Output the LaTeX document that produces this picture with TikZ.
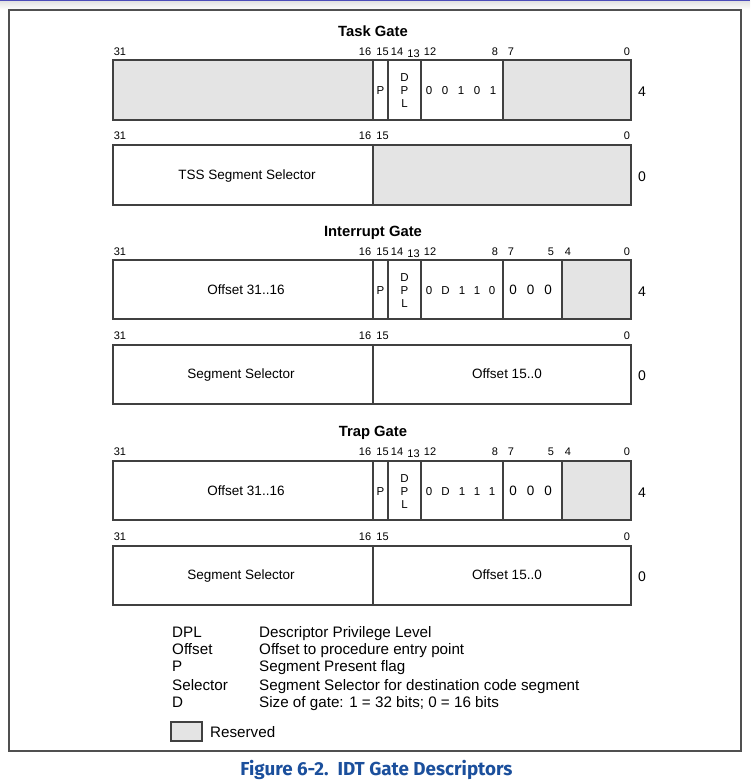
\documentclass[tikz,border=0pt]{standalone}
\usepackage{fontspec}
\setmainfont{Liberation Sans}
\newfontfamily\capfont{Fira Sans}
\definecolor{linec}{HTML}{404040}
\definecolor{resgray}{HTML}{E4E4E4}
\definecolor{capblue}{HTML}{1B4F9C}
\definecolor{framec}{HTML}{505050}
\newcommand\bitfont{\fontsize{11}{12}\selectfont}
\newcommand\fldfont{\fontsize{13.5}{15}\selectfont}
\newcommand\smlfont{\fontsize{11.5}{12}\selectfont}
\newcommand\ttlfont{\fontsize{14.8}{16}\selectfont\bfseries}
\newcommand\sidefont{\fontsize{14}{16}\selectfont}
\newcommand\legfont{\fontsize{15.2}{17}\selectfont}
\tikzset{
  box/.style={draw=linec, line width=1.4pt},
  res/.style={fill=resgray},
  bitn/.style={font=\bitfont, inner sep=0pt, text height=7.9pt, text depth=0pt},
  fld/.style={font=\fldfont, inner sep=0pt, text height=9.7pt, text depth=0pt},
  sml/.style={font=\smlfont, inner sep=0pt, text height=8.2pt, text depth=0pt},
  ttl/.style={font=\ttlfont, inner sep=0pt, text height=10.6pt, text depth=0pt},
  side/.style={font=\sidefont, inner sep=0pt, text height=10pt, text depth=0pt},
  leg/.style={font=\legfont, inner sep=0pt, text height=10.9pt, text depth=0pt, anchor=west},
}
\begin{document}
\begin{tikzpicture}[x=1pt,y=-1pt]
\useasboundingbox (0,0) rectangle (750,782);
% top band and outer frame
\shade[top color=gray!25, bottom color=white] (0,0) rectangle (750,10);
\fill[blue!60!black!70] (0,0) rectangle (750,1.2);
\draw[framec, line width=2pt] (9,10) rectangle (741,751);

% ---------------- Task Gate ----------------
\node[ttl] (tgT) at (373,31) {Task Gate};
\node[bitn] (tA31) at (120,52) {31};
\node[bitn] (tA16) at (365,52) {16};
\node[bitn] (tA15) at (382.5,52) {15};
\node[bitn] (tA14) at (397,52) {14};
\node[bitn] (tA13) at (413.5,53.5) {13};
\node[bitn] (tA12) at (430,52) {12};
\node[bitn] (tA8) at (495,52) {8};
\node[bitn] (tA7) at (511,52) {7};
\node[bitn] (tA0) at (627,52) {0};
\fill[res] (113,60) rectangle (373,120);
\fill[res] (503,60) rectangle (631,120);
\draw[box] (113,60) rectangle (631,120);
\draw[box] (373,60)--(373,120) (388,60)--(388,120) (421,60)--(421,120) (503,60)--(503,120);
\node[sml] (tAP) at (380.5,90) {P};
\node[sml] (tAD) at (404.5,77) {D};
\node[sml] (tAPP) at (404.5,90) {P};
\node[sml] (tAL) at (404.5,103) {L};
\node[sml] (tAb1) at (429,90) {0};
\node[sml] (tAb2) at (445,90) {0};
\node[sml] (tAb3) at (461,90) {1};
\node[sml] (tAb4) at (477,90) {0};
\node[sml] (tAb5) at (493,90) {1};
\node[side] (tAs) at (642,91) {4};

\node[bitn] (tB31) at (120,136) {31};
\node[bitn] (tB16) at (365,136) {16};
\node[bitn] (tB15) at (382.5,136) {15};
\node[bitn] (tB0) at (627,136) {0};
\fill[res] (373,145) rectangle (631,205);
\draw[box] (113,145) rectangle (631,205);
\draw[box] (373,145)--(373,205);
\node[fld] (tBsel) at (247,175) {TSS Segment Selector};
\node[side] (tBs) at (642,176) {0};

% ---------------- Interrupt Gate ----------------
\node[ttl] (igT) at (373,231) {Interrupt Gate};
\node[bitn] (iA31) at (120,252) {31};
\node[bitn] (iA16) at (365,252) {16};
\node[bitn] (iA15) at (382.5,252) {15};
\node[bitn] (iA14) at (397,252) {14};
\node[bitn] (iA13) at (413.5,253.5) {13};
\node[bitn] (iA12) at (430,252) {12};
\node[bitn] (iA8) at (495,252) {8};
\node[bitn] (iA7) at (511,252) {7};
\node[bitn] (iA5) at (551,252) {5};
\node[bitn] (iA4) at (568,252) {4};
\node[bitn] (iA0) at (627,252) {0};
\fill[res] (562,260) rectangle (631,319);
\draw[box] (113,260) rectangle (631,319);
\draw[box] (373,260)--(373,319) (388,260)--(388,319) (421,260)--(421,319) (503,260)--(503,319) (562,260)--(562,319);
\node[fld] (iAoff) at (246,290) {Offset 31..16};
\node[sml] (iAP) at (380.5,290) {P};
\node[sml] (iAD) at (404.5,277) {D};
\node[sml] (iAPP) at (404.5,290) {P};
\node[sml] (iAL) at (404.5,303) {L};
\node[sml] (iAb1) at (429,290) {0};
\node[sml] (iAb2) at (445.5,290) {D};
\node[sml] (iAb3) at (462,290) {1};
\node[sml] (iAb4) at (477,290) {1};
\node[sml] (iAb5) at (492,290) {0};
\node[fld] (iAc1) at (513,290) {0};
\node[fld] (iAc2) at (530.5,290) {0};
\node[fld] (iAc3) at (548,290) {0};
\node[side] (iAs) at (642,291) {4};

\node[bitn] (iB31) at (120,336) {31};
\node[bitn] (iB16) at (365,336) {16};
\node[bitn] (iB15) at (382.5,336) {15};
\node[bitn] (iB0) at (627,336) {0};
\draw[box] (113,345) rectangle (631,404);
\draw[box] (373,345)--(373,404);
\node[fld] (iBsel) at (241,374) {Segment Selector};
\node[fld] (iBoff) at (507,374) {Offset 15..0};
\node[side] (iBs) at (642,375) {0};

% ---------------- Trap Gate ----------------
\node[ttl] (rgT) at (373,431) {Trap Gate};
\node[bitn] (rA31) at (120,452) {31};
\node[bitn] (rA16) at (365,452) {16};
\node[bitn] (rA15) at (382.5,452) {15};
\node[bitn] (rA14) at (397,452) {14};
\node[bitn] (rA13) at (413.5,453.5) {13};
\node[bitn] (rA12) at (430,452) {12};
\node[bitn] (rA8) at (495,452) {8};
\node[bitn] (rA7) at (511,452) {7};
\node[bitn] (rA5) at (551,452) {5};
\node[bitn] (rA4) at (568,452) {4};
\node[bitn] (rA0) at (627,452) {0};
\fill[res] (562,461) rectangle (631,520);
\draw[box] (113,461) rectangle (631,520);
\draw[box] (373,461)--(373,520) (388,461)--(388,520) (421,461)--(421,520) (503,461)--(503,520) (562,461)--(562,520);
\node[fld] (rAoff) at (246,491) {Offset 31..16};
\node[sml] (rAP) at (380.5,491) {P};
\node[sml] (rAD) at (404.5,478) {D};
\node[sml] (rAPP) at (404.5,491) {P};
\node[sml] (rAL) at (404.5,504) {L};
\node[sml] (rAb1) at (429,491) {0};
\node[sml] (rAb2) at (445.5,491) {D};
\node[sml] (rAb3) at (462,491) {1};
\node[sml] (rAb4) at (477,491) {1};
\node[sml] (rAb5) at (492,491) {1};
\node[fld] (rAc1) at (513,491) {0};
\node[fld] (rAc2) at (530.5,491) {0};
\node[fld] (rAc3) at (548,491) {0};
\node[side] (rAs) at (642,492) {4};

\node[bitn] (rB31) at (120,537) {31};
\node[bitn] (rB16) at (365,537) {16};
\node[bitn] (rB15) at (382.5,537) {15};
\node[bitn] (rB0) at (627,537) {0};
\draw[box] (113,546) rectangle (631,605);
\draw[box] (373,546)--(373,605);
\node[fld] (rBsel) at (241,575) {Segment Selector};
\node[fld] (rBoff) at (507,575) {Offset 15..0};
\node[side] (rBs) at (642,576) {0};

% ---------------- Legend ----------------
\node[leg] (l1a) at (172,632) {DPL};
\node[leg] (l1b) at (259,632) {Descriptor Privilege Level};
\node[leg] (l2a) at (172,649) {Offset};
\node[leg] (l2b) at (259,649) {Offset to procedure entry point};
\node[leg] (l3a) at (172,666.5) {P};
\node[leg] (l3b) at (259,666.5) {Segment Present flag};
\node[leg] (l4a) at (172,685) {Selector};
\node[leg] (l4b) at (259,685) {Segment Selector for destination code segment};
\node[leg] (l5a) at (172,702) {D};
\node[leg] (l5b) at (259,702) {Size of gate: 1 = 32 bits; 0 = 16 bits};
\draw[box, fill=resgray, line width=1.2pt] (171,722) rectangle (202,741);
\node[leg] (lres) at (210,732) {Reserved};

% ---------------- Caption ----------------
\node[font=\capfont\bfseries\fontsize{18.8}{22}\selectfont, text=capblue, inner sep=0pt, text height=13.2pt, text depth=0pt] (cap) at (376.5,769) {Figure 6-2.\ \ IDT Gate Descriptors};
\end{tikzpicture}
\end{document}
